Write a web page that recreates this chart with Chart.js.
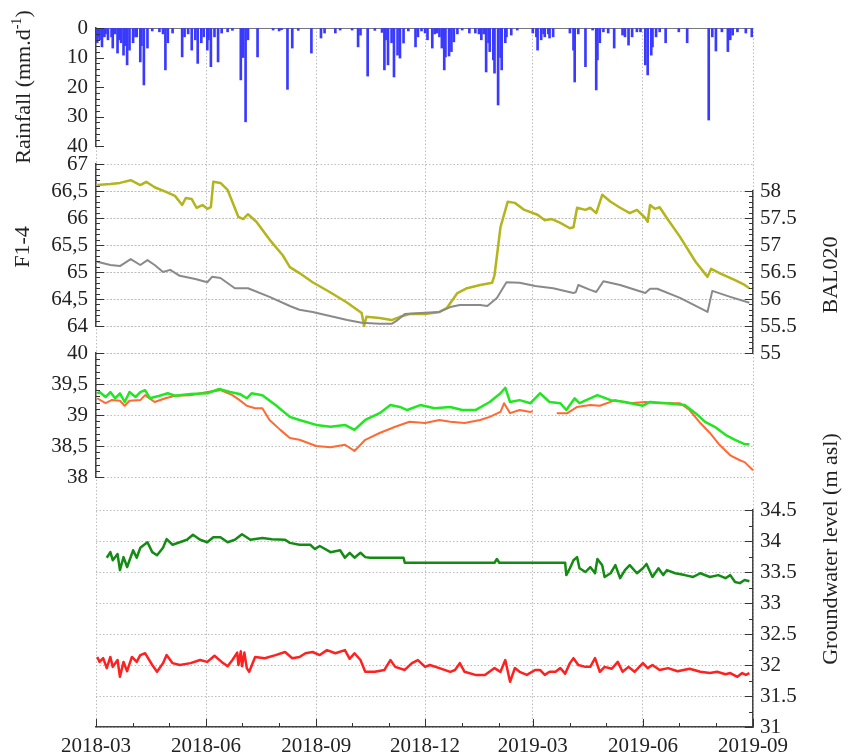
<!DOCTYPE html>
<html>
<head>
<meta charset="utf-8">
<script src="https://cdn.jsdelivr.net/npm/chart.js@4.4.1/dist/chart.umd.min.js"></script>
<style>
  body { margin: 0; background: #fff; }
  #wrap { position: relative; width: 852px; height: 756px; }
  .ttl { position: absolute; font-family: "Liberation Serif", serif; font-size: 22px; color: #222;
         white-space: nowrap; line-height: 1; transform: translate(-50%, -50%) rotate(-90deg); }
  .ttl sup { font-size: 14px; }
</style>
</head>
<body>
<div id="wrap">
  <canvas id="chart" width="852" height="756"></canvas>
  <div class="ttl" style="left:22px;top:87px">Rainfall (mm.d<sup>-1</sup>)</div>
  <div class="ttl" style="left:22px;top:247px">F1-4</div>
  <div class="ttl" style="left:830px;top:275px">BAL020</div>
  <div class="ttl" style="left:830px;top:549px">Groundwater level (m asl)</div>
</div>
<script>
// x values are days counted from 2018-03-01
var monthDays = [0, 31, 61, 92, 122, 153, 184, 214, 245, 275, 306, 337, 365, 396, 426, 457, 487, 518, 549];
var quarterDays = [0, 92, 184, 275, 365, 457, 549];
var quarterLabels = ["2018-03", "2018-06", "2018-09", "2018-12", "2019-03", "2019-06", "2019-09"];

// daily rainfall (mm/d)
var rainDay = [1,2,3,5,7,8,10,13,14,16,18,19,21,23,24,26,28,31,33,34,37,38,40,43,47,53,56,58,60,64,
  72,74,77,80,83,85,88,90,93,94,96,99,102,105,110,114,121,123,125,127,135,148,153,155,160,164,169,180,188,191,
  200,204,214,219,221,227,233,239,241,242,244,247,249,252,254,257,261,267,269,272,275,277,281,283,285,287,289,291,292,295,
  297,299,302,306,312,317,320,322,324,326,328,329,332,333,336,338,339,342,343,347,352,365,368,369,372,374,375,378,379,382,
  396,399,400,403,409,415,418,419,421,424,428,433,440,442,445,448,452,455,459,461,464,465,468,471,476,487,494,512,515,518,
  523,528,530,532,536,543,548];
var rainMm = [5,3,4,6.4,3,2,4,3,6.8,2,8.5,4,5,9.2,6,12.5,7.5,5,3,3,11.5,6,19.3,6.8,1,1.3,2,14.2,5,1.7,
  9.8,3,2,7.5,4,12,5,3,7.5,4,13.1,3,11.5,1.7,1.3,0.8,17.6,10,31.8,4,9.8,0.7,1,0.6,20.8,6.8,0.8,8.5,3.4,1.7,
  1.7,0.7,0.7,6.4,2.4,16.3,0.8,1.5,14.2,4,12.5,5,16.6,9.2,10.2,5.1,1,6.4,3,1,1.7,4,6.8,2,1.7,3,6.8,14.2,9.8,9.5,
  8,4.7,2,0.7,1.7,1.7,2,4,2,14.9,5,8,10.8,15.3,26.1,10,14.2,5,3,2.4,0.7,1.7,3,7.5,4,2,3,2,3.4,3,
  1.7,7.5,18.3,2,13.1,0.7,21,10.8,5,1.3,1.7,6.8,2.4,3,5.8,3,1.3,1.3,12.5,15.9,9.2,6.4,3,1.3,5,1.3,5,31.2,3,7.8,
  1.3,8,4,2.4,1.3,1.7,3];

// F1-4 (left axis)
var f14Day = [1,12,20,29,37,43,49,56,62,70,83,93,97,104,116,127,145,162,170,181,210,222,237,247,252,258,271,287,296,304,
  321,327,335,343,354,367,382,399,401,403,413,418,424,438,459,463,469,488,511,515,530,546];
var f14Val = [65.19,65.13,65.11,65.24,65.13,65.22,65.13,65.00,65.04,64.93,64.87,64.81,64.91,64.89,64.70,64.70,64.54,64.37,64.30,64.26,
  64.11,64.06,64.04,64.04,64.11,64.22,64.24,64.26,64.35,64.39,64.39,64.37,64.52,64.81,64.80,64.74,64.70,64.61,64.63,64.76,
  64.67,64.63,64.83,64.76,64.61,64.69,64.69,64.52,64.26,64.65,64.54,64.43];

// BAL020 (right axis)
var balDay = [1,12,20,29,37,42,49,59,66,72,75,80,84,89,93,96,98,104,110,119,123,127,134,145,156,162,170,181,196,210,
  222,224,226,237,247,254,262,275,287,293,302,310,321,331,333,338,344,350,358,369,375,381,388,396,399,402,409,413,418,423,
  430,438,446,452,459,461,463,467,471,477,488,501,511,514,521,534,542,546];
var balVal = [58.11,58.13,58.15,58.20,58.11,58.17,58.07,57.98,57.91,57.74,57.87,57.85,57.69,57.74,57.67,57.70,58.17,58.15,58.02,57.52,
  57.48,57.57,57.43,57.10,56.81,56.59,56.48,56.31,56.12,55.93,55.74,55.50,55.67,55.65,55.61,55.67,55.72,55.72,55.76,55.83,
  56.11,56.20,56.26,56.30,56.44,57.33,57.80,57.78,57.65,57.56,57.46,57.48,57.41,57.31,57.33,57.69,57.65,57.69,57.59,57.93,
  57.80,57.69,57.59,57.65,57.50,57.43,57.74,57.67,57.70,57.50,57.15,56.69,56.41,56.56,56.48,56.35,56.26,56.20];

// upper groundwater pair
var limeDay = [1,3,8,12,16,20,24,28,33,37,41,45,53,60,66,79,93,103,112,120,126,130,139,150,162,170,184,196,208,216,
  225,237,246,254,260,271,283,296,306,317,329,338,342,346,354,363,371,379,388,393,400,404,419,430,442,457,463,477,492,501,
  509,517,526,534,542,546];
var limeVal = [39.35,39.37,39.29,39.37,39.27,39.35,39.21,39.37,39.29,39.37,39.40,39.27,39.31,39.35,39.31,39.34,39.35,39.42,39.37,39.34,
  39.27,39.35,39.32,39.16,38.97,38.92,38.84,38.81,38.84,38.76,38.92,39.03,39.16,39.13,39.08,39.16,39.11,39.13,39.08,39.08,
  39.21,39.35,39.44,39.21,39.24,39.19,39.35,39.21,39.19,39.08,39.27,39.19,39.32,39.24,39.21,39.15,39.21,39.19,39.16,39.03,
  38.89,38.81,38.68,38.60,38.53,38.53];
var orangeDay = [1,8,13,20,24,28,37,41,49,58,66,79,93,104,114,120,126,133,139,145,154,162,170,184,196,208,216,225,237,250,
  262,275,287,296,308,321,329,338,341,346,354,363,365,375,385,394,402,413,421,434,446,459,471,488,496,505,513,521,530,538,
  542,549];
var orangeVal = [39.27,39.19,39.24,39.23,39.15,39.23,39.24,39.32,39.21,39.27,39.31,39.32,39.37,39.40,39.32,39.24,39.15,39.11,39.11,38.92,
  38.76,38.63,38.60,38.50,38.48,38.52,38.42,38.60,38.71,38.81,38.89,38.87,38.92,38.89,38.87,38.92,38.97,39.05,39.19,39.03,
  39.08,39.05,39.06,null,39.03,39.03,39.13,39.16,39.15,39.24,39.19,39.21,39.19,39.19,39.08,38.87,38.71,38.52,38.35,38.27,
  38.24,38.11];

// lower groundwater pair
var dkGreenDay = [9,12,14,18,20,23,26,31,34,37,43,47,51,56,59,64,70,76,81,87,93,98,104,110,116,122,129,139,147,158,
  162,170,179,183,187,196,204,208,212,216,221,225,229,257,258,333,335,337,392,393,396,399,402,404,409,413,417,419,423,425,
  430,434,438,442,446,452,457,460,465,470,474,477,484,492,499,505,513,520,526,530,534,538,542,546];
var dkGreenVal = [33.73,33.82,33.69,33.79,33.53,33.74,33.58,33.85,33.73,33.89,33.98,33.82,33.77,33.89,34.03,33.94,33.98,34.02,34.10,34.02,
  33.98,34.06,34.06,33.98,34.02,34.11,34.02,34.05,34.03,34.02,33.97,33.94,33.94,33.87,33.92,33.82,33.85,33.73,33.81,33.73,
  33.81,33.74,33.73,33.73,33.65,33.65,33.71,33.65,33.65,33.45,33.56,33.69,33.74,33.56,33.50,33.58,33.48,33.71,33.61,33.42,
  33.48,33.61,33.40,33.53,33.61,33.48,33.56,33.63,33.42,33.56,33.45,33.53,33.48,33.45,33.42,33.48,33.42,33.45,33.40,33.45,
  33.34,33.32,33.37,33.35];
var redDay = [1,3,6,9,12,14,18,20,23,26,30,34,37,41,47,51,56,59,64,70,79,87,93,99,105,110,114,118,119,121,
  122,124,126,128,133,141,150,158,164,170,175,181,187,193,200,208,212,216,221,225,233,241,246,250,258,264,269,275,279,287,
  296,300,304,308,317,325,333,338,342,346,350,354,360,367,371,375,379,384,388,392,396,399,403,409,413,417,421,425,431,436,
  440,445,450,457,461,465,471,478,486,496,505,513,519,526,530,536,540,543,546];
var redVal = [32.13,32.05,32.11,31.95,32.13,31.97,32.08,31.81,32.05,31.90,32.13,32.05,32.16,32.19,32.00,31.89,32.03,32.16,32.03,32.00,
  32.03,32.08,32.05,32.15,32.05,31.98,32.08,32.20,32.00,32.22,31.98,32.20,31.95,31.89,32.13,32.11,32.16,32.21,32.11,32.13,
  32.19,32.21,32.16,32.24,32.19,32.24,32.10,32.19,32.08,31.89,31.89,31.92,32.08,31.97,31.92,32.03,32.08,31.97,32.00,31.95,
  31.89,31.92,32.03,31.89,31.84,31.84,31.95,31.89,32.08,31.73,31.95,31.89,31.84,31.92,31.92,31.84,31.89,31.89,31.95,31.86,
  32.03,32.11,32.00,31.97,31.97,32.11,31.89,31.97,31.94,32.05,31.89,31.97,31.89,32.03,31.95,32.00,31.92,31.95,31.90,31.94,
  31.89,31.87,31.89,31.85,31.87,31.81,31.87,31.84,31.87];

// minor tick step per axis
var minorStep = { yRain: 2, yF: 0.1, y3: 0.1, yBal: 0.1, yGw: 0.25 };

var serif = '"Liberation Serif", "Times New Roman", serif';
var tickFont = { family: serif, size: 21 };
var gridColor = "#bdbdbd";
var gridDash = [1.5, 2];
var axisColor = "#444";

function pairs(xs, ys) {
    return xs.map(function(x, i) { return { x: x, y: ys[i] }; });
}

function plain(v) { return String(v); }
function comma(v) { return String(v).replace(".", ","); }

function valueAxis(pos, weight, stackWeight, min, max, step, fmt) {
    return {
        type: "linear", position: pos, stack: pos == "left" ? "L" : "R",
        weight: weight, stackWeight: stackWeight, min: min, max: max,
        afterFit: function(s) { s.width = pos == "left" ? 96 : 99; },
        ticks: { stepSize: step, font: tickFont, color: "#222", padding: pos == "left" ? 8 : 7,
                 autoSkip: false, callback: fmt },
        grid: { color: gridColor, drawTicks: false },
        border: { color: axisColor, width: 1.5, dash: gridDash }
    };
}

function gapAxis(pos, weight, stackWeight) {
    return {
        type: "linear", position: pos, stack: pos == "left" ? "L" : "R",
        weight: weight, stackWeight: stackWeight,
        ticks: { display: false }, grid: { display: false }, border: { display: false }
    };
}

// inward tick marks, major at labelled values, minor in between
var inwardTicks = {
    id: "inwardTicks",
    afterDraw: function(chart) {
        var ctx = chart.ctx;
        ctx.save();
        ctx.strokeStyle = "#333";
        ctx.lineWidth = 1;
        Object.keys(minorStep).forEach(function(id) {
            var s = chart.scales[id];
            var step = minorStep[id];
            var n = Math.round((s.max - s.min) / step);
            var left = s.position == "left";
            var edge = left ? s.right : s.left;
            for (var i = 0; i <= n; i++) {
                var v = s.min + i * step;
                var major = s.ticks.some(function(t) { return Math.abs(t.value - v) < 1e-6; });
                var y = Math.round(s.getPixelForValue(v)) + 0.5;
                var len = major ? 8 : 4;
                ctx.beginPath();
                ctx.moveTo(edge, y);
                ctx.lineTo(left ? edge + len : edge - len, y);
                ctx.stroke();
            }
        });
        var xs = chart.scales.x;
        monthDays.forEach(function(d) {
            var px = Math.round(xs.getPixelForValue(d)) + 0.5;
            var len = quarterDays.indexOf(d) >= 0 ? 8 : 4;
            ctx.beginPath();
            ctx.moveTo(px, xs.top);
            ctx.lineTo(px, xs.top - len);
            ctx.stroke();
        });
        ctx.restore();
    }
};

var lineStyle = { type: "line", pointRadius: 0, borderJoinStyle: "round", tension: 0, spanGaps: false, clip: false };

new Chart(document.getElementById("chart"), {
    type: "line",
    data: {
        datasets: [
            { type: "bar", label: "Rainfall", data: pairs(rainDay, rainMm), yAxisID: "yRain",
              backgroundColor: "#3a3aff", barThickness: 2 },
            Object.assign({ label: "F1-4", data: pairs(f14Day, f14Val), yAxisID: "yF",
              borderColor: "#8a8a8a", borderWidth: 2 }, lineStyle),
            Object.assign({ label: "BAL020", data: pairs(balDay, balVal), yAxisID: "yBal",
              borderColor: "#b4b41c", borderWidth: 2.5 }, lineStyle),
            Object.assign({ label: "GW1", data: pairs(limeDay, limeVal), yAxisID: "y3",
              borderColor: "#22e622", borderWidth: 2.5 }, lineStyle),
            Object.assign({ label: "GW2", data: pairs(orangeDay, orangeVal), yAxisID: "y3",
              borderColor: "#ff6a33", borderWidth: 2 }, lineStyle),
            Object.assign({ label: "GW3", data: pairs(dkGreenDay, dkGreenVal), yAxisID: "yGw",
              borderColor: "#148c14", borderWidth: 2.5 }, lineStyle),
            Object.assign({ label: "GW4", data: pairs(redDay, redVal), yAxisID: "yGw",
              borderColor: "#ff2020", borderWidth: 2.5 }, lineStyle)
        ]
    },
    options: {
        responsive: false,
        animation: false,
        events: [],
        layout: { padding: { top: 28, left: 0, right: 0, bottom: 0 } },
        plugins: { legend: { display: false }, tooltip: { enabled: false } },
        scales: {
            x: {
                type: "linear", position: "bottom", min: 0, max: 549, offset: false,
                afterBuildTicks: function(s) { s.ticks = quarterDays.map(function(v) { return { value: v }; }); },
                afterFit: function(s) { s.height = 29; },
                ticks: { font: tickFont, color: "#222", padding: 7, maxRotation: 0, autoSkip: false,
                         callback: function(v) { return quarterLabels[quarterDays.indexOf(v)]; } },
                grid: { color: gridColor, drawTicks: false, offset: false },
                border: { color: axisColor, width: 1.5, dash: gridDash }
            },
            // left stack, top to bottom (higher weight sits higher on the left)
            yRain: Object.assign(valueAxis("left", 6, 118, 0, 40, 10, plain), {
                reverse: true,
                grid: { drawTicks: false, color: function(c) { return c.tick && c.tick.value === 0 ? "#777" : "rgba(0,0,0,0)"; } },
                border: { color: axisColor, width: 1.5, dash: [] }
            }),
            gapL1: gapAxis("left", 5, 18),
            yF: valueAxis("left", 4, 162, 64, 67, 0.5, comma),
            gapL2: gapAxis("left", 3, 27),
            y3: valueAxis("left", 2, 124, 38, 40, 0.5, comma),
            gapL3: gapAxis("left", 1, 250),
            // right stack, top to bottom (lower weight sits higher on the right)
            gapR1: gapAxis("right", 1, 163),
            yBal: valueAxis("right", 2, 162, 55, 58, 0.5, plain),
            gapR2: gapAxis("right", 3, 157),
            yGw: valueAxis("right", 4, 217, 31, 34.5, 0.5, plain)
        }
    },
    plugins: [inwardTicks]
});
</script>
</body>
</html>
